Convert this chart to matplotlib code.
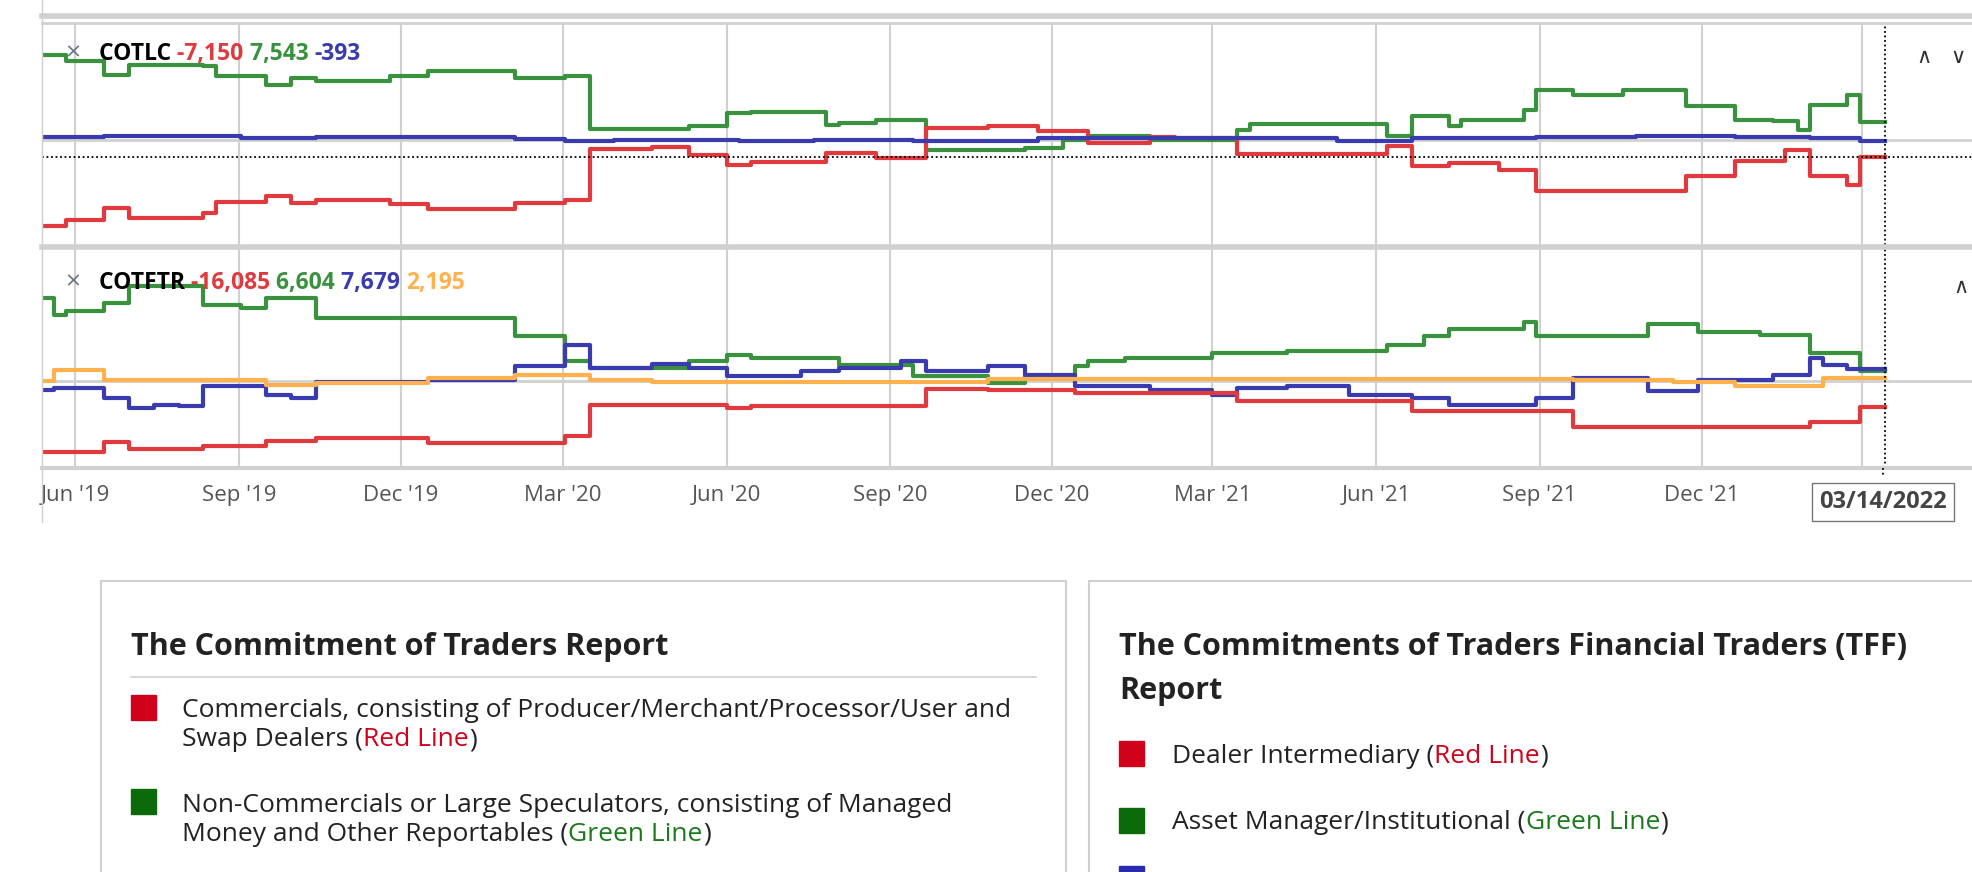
import numpy as np
import pandas as pd
import matplotlib
matplotlib.use("Agg")
import matplotlib.pyplot as plt
from matplotlib.patches import Rectangle

plt.rcParams['font.family'] = ['Open Sans', 'DejaVu Sans']

# ---- data: weekly steps (week index from 2019-05-13, value in thousands) ----
START = pd.Timestamp("2019-05-13")
N_WEEKS = 149

lc_green_w = [0, 2, 5, 7, 13, 14, 18, 20, 22, 28, 31, 38, 42, 44, 52, 55, 57, 63, 64, 67, 71, 79, 82, 84, 89,
              96, 97, 108, 110, 113, 114, 119, 120, 123, 127, 132, 136, 139, 141, 142, 145, 146]
lc_green_v = [35.4, 32.7, 27.1, 31.3, 30.6, 26.4, 22.9, 25.7, 24.3, 26.7, 28.8, 25.6, 26.4, 4.4, 5.8, 11.1, 11.4,
              6.3, 7.0, 8.3, -4.2, -3.5, 0.0, 1.7, 0.0, 4.2, 6.7, 1.7, 9.7, 5.6, 8.3, 12.5, 20.6, 18.8, 20.9,
              13.9, 8.3, 7.6, 4.2, 14.6, 18.8, 7.543]
lc_red_w = [0, 2, 5, 7, 13, 14, 18, 20, 22, 28, 31, 38, 42, 44, 49, 52, 55, 57, 63, 67, 71, 76, 80, 84, 89, 91,
            96, 108, 110, 113, 117, 120, 132, 136, 140, 142, 145, 146]
lc_red_v = [-35.9, -33.4, -28.5, -32.7, -30.6, -26.1, -23.6, -26.4, -25.0, -26.7, -28.9, -26.4, -25.0, -3.9, -3.0,
            -6.5, -10.4, -9.5, -5.6, -7.6, 4.9, 5.8, 3.5, -1.4, 1.1, 0.7, -5.8, -2.8, -11.1, -9.7, -12.5, -21.5,
            -15.3, -9.0, -4.2, -15.3, -18.8, -7.15]
lc_blue_w = [0, 5, 10, 16, 22, 30, 38, 42, 46, 56, 62, 70, 80, 88, 96, 104, 110, 120, 128, 136, 142, 146]
lc_blue_v = [1.0, 1.4, 1.6, 0.6, 0.9, 1.2, 0.4, -0.6, -0.3, -0.4, 0.0, -0.4, 0.8, 0.6, 0.6, -0.6, 0.8, 1.3, 1.6,
             1.0, 0.7, -0.393]

tf_green_w = [0, 1, 2, 5, 7, 13, 16, 18, 22, 38, 42, 44, 52, 55, 57, 64, 70, 76, 79, 83, 84, 87, 94, 100, 108,
              111, 113, 119, 120, 129, 133, 138, 142, 146]
tf_green_v = [53, 42.4, 44.5, 49.8, 60.4, 48.8, 46.6, 53, 40.3, 28.6, 12.7, 8.5, 12.7, 17, 14.8, 10.6, 3.2, -1.1,
              3.2, 9.5, 12.7, 14.8, 18, 19, 23.3, 28.6, 33.3, 37.5, 28.6, 36.7, 31.4, 29.7, 18, 6.604]
tf_blue_w = [0, 1, 5, 7, 9, 11, 13, 18, 20, 22, 31, 38, 42, 44, 49, 52, 55, 61, 64, 69, 71, 76, 79, 83, 89, 94,
             96, 100, 105, 110, 113, 120, 123, 129, 133, 139, 142, 143, 145]
tf_blue_v = [-5.3, -4.2, -10.6, -17, -14.8, -15.8, -3.2, -8.5, -10.6, -0.6, 1.1, 9.5, 23.3, 8.5, 11.2, 8.5, 3.2,
             6.4, 8.5, 12.7, 6.4, 9.5, 4.2, -3.2, -5.3, -8.5, -4.2, -3.2, -8.5, -10.6, -14.8, -10.6, 2.1, -6.4,
             1.1, 4.2, 14.8, 10.6, 7.679]
tf_orange_w = [0, 1, 5, 18, 22, 31, 38, 44, 49, 76, 123, 131, 136, 143]
tf_orange_v = [0, 7.4, 0.6, -2.1, -1.1, 2.1, 4.2, 1.0, -0.6, 1.5, 1.0, -0.6, -2.8, 2.195]
tf_red_w = [0, 5, 7, 13, 18, 22, 31, 42, 44, 55, 57, 71, 76, 83, 96, 110, 123, 142, 146]
tf_red_v = [-45, -38.8, -43, -40.9, -38.2, -36, -39.2, -35, -14.8, -17, -15.5, -4.9, -5.7, -7.4, -12.7, -19,
            -29.3, -26, -16.085]

tick_months = ["2019-06-01", "2019-09-01", "2019-12-01", "2020-03-01", "2020-06-01", "2020-09-01",
               "2020-12-01", "2021-03-01", "2021-06-01", "2021-09-01", "2021-12-01", "2022-03-01"]
tick_labels = ["Jun '19", "Sep '19", "Dec '19", "Mar '20", "Jun '20", "Sep '20",
               "Dec '20", "Mar '21", "Jun '21", "Sep '21", "Dec '21", ""]

RED, GREEN, BLUE, ORANGE = '#e03a3e', '#3a923e', '#3b3bb0', '#ffb14e'
GRID = '#d0d0d0'

weeks = np.arange(N_WEEKS)
dates = START + pd.to_timedelta(weeks * 7, unit='D')


def steps(w, v):
    idx = np.searchsorted(np.array(w), weeks, side='right') - 1
    return np.array(v)[idx]


W, H = 1568.0, 693.0  # layout measured on a scaled copy


def fx(x):
    return x / W


def fy(y):
    return 1 - y / H


fig = plt.figure(figsize=(19.72, 8.72), dpi=100)
ax1 = fig.add_axes([fx(33), fy(195), 1 - fx(33), (195 - 18) / H])
ax2 = fig.add_axes([fx(33), fy(372), 1 - fx(33), (372 - 197) / H])

x_end = START + pd.Timedelta(weeks=155)
for ax in (ax1, ax2):
    ax.set_xlim(START, x_end)
    for s in ax.spines.values():
        s.set_visible(False)
    ax.spines['left'].set_visible(True)
    ax.spines['left'].set_color(GRID)
    ax.set_yticks([])
    ax.set_xticks(pd.to_datetime(tick_months))
    ax.grid(axis='x', color=GRID, lw=1.5)
    ax.tick_params(axis='x', length=0)
    ax.axhline(0, color=GRID, lw=2, zorder=1)
ax1.set_xticklabels([])
ax2.set_xticklabels(tick_labels, fontsize=16, color='#555555')
ax2.tick_params(axis='x', pad=12)

ax1.set_ylim(-44.1, 48.8)
ax2.set_ylim(-55.2, 84.8)

lw = 3.0
ax1.plot(dates, steps(lc_green_w, lc_green_v), drawstyle='steps-post', color=GREEN, lw=lw)
ax1.plot(dates, steps(lc_red_w, lc_red_v), drawstyle='steps-post', color=RED, lw=lw)
ax1.plot(dates, steps(lc_blue_w, lc_blue_v), drawstyle='steps-post', color=BLUE, lw=lw)
ax1.axhline(lc_red_v[-1], color='black', ls=(0, (1, 1.5)), lw=1.3, zorder=5)

ax2.plot(dates, steps(tf_green_w, tf_green_v), drawstyle='steps-post', color=GREEN, lw=lw)
ax2.plot(dates, steps(tf_blue_w, tf_blue_v), drawstyle='steps-post', color=BLUE, lw=lw)
ax2.plot(dates, steps(tf_orange_w, tf_orange_v), drawstyle='steps-post', color=ORANGE, lw=lw)
ax2.plot(dates, steps(tf_red_w, tf_red_v), drawstyle='steps-post', color=RED, lw=lw)

for ax in (ax1, ax2):
    ax.axvline(dates[-1], color='black', ls=(0, (1, 1.5)), lw=1.3, zorder=5, clip_on=False)

# separators
for y, lwid in [(13, 4), (18, 2), (196, 4), (372, 3)]:
    fig.add_artist(plt.Line2D([fx(33), 1], [fy(y), fy(y)], color=GRID, lw=lwid))
fig.add_artist(plt.Line2D([fx(33), fx(33)], [fy(0), fy(415)], color=GRID, lw=1))
fig.add_artist(plt.Line2D([fx(1497), fx(1497)], [fy(372), fy(378)], color='black', ls=':', lw=1.3))

renderer = fig.canvas.get_renderer()


def runs(x, y, parts, size=14):
    for txt, col, wt in parts:
        t = fig.text(x, y, txt, color=col, fontsize=size, fontweight=wt, va='center', ha='left')
        bb = t.get_window_extent(renderer)
        x += bb.width / fig.bbox.width
    return x


fig.text(fx(52), fy(43), '×', color='#6b7785', fontsize=19, va='center')
runs(fx(79), fy(43), [('COTLC ', 'black', 'bold'), ('-7,150 ', RED, 'bold'),
                      ('7,543 ', GREEN, 'bold'), ('-393', BLUE, 'bold')], 16.5)
fig.text(fx(52), fy(225), '×', color='#6b7785', fontsize=19, va='center')
runs(fx(79), fy(225), [('COTFTR ', 'black', 'bold'), ('-16,085 ', RED, 'bold'), ('6,604 ', GREEN, 'bold'),
                       ('7,679 ', BLUE, 'bold'), ('2,195', ORANGE, 'bold')], 16.5)
for xx, ch in [(1530, '∧'), (1557, '∨')]:
    fig.text(fx(xx), fy(45), ch, color='#333333', fontsize=15, ha='center', va='center', family='DejaVu Sans')
fig.text(fx(1559), fy(228), '∧', color='#333333', fontsize=15, ha='center', va='center', family='DejaVu Sans')

fig.text(fx(1497), fy(399), '03/14/2022', fontsize=17, fontweight='bold', color='#444444', ha='center',
         va='center', bbox=dict(boxstyle='square,pad=0.3', fc='white', ec='#777777', lw=1))

# description boxes
fig.add_artist(Rectangle((fx(80), fy(700)), fx(848 - 80), (700 - 462) / H, fill=False, ec=GRID, lw=1.5))
fig.add_artist(Rectangle((fx(866), fy(700)), fx(1600 - 866), (700 - 462) / H, fill=False, ec=GRID, lw=1.5))

TS, BS = 22, 19
fig.text(fx(104), fy(514), 'The Commitment of Traders Report', fontsize=TS, fontweight='bold',
         color='#222222', va='center')
fig.add_artist(plt.Line2D([fx(104), fx(824)], [fy(538), fy(538)], color=GRID, lw=1.2))
fig.add_artist(Rectangle((fx(104), fy(572)), fx(20), 20 / H, color='#d0021b'))
runs(fx(145), fy(565), [('Commercials, consisting of Producer/Merchant/Processor/User and', '#222222', 'normal')], BS)
runs(fx(145), fy(588), [('Swap Dealers (', '#222222', 'normal'), ('Red Line', '#d0021b', 'normal'),
                        (')', '#222222', 'normal')], BS)
fig.add_artist(Rectangle((fx(104), fy(647)), fx(20), 20 / H, color='#0b6b0b'))
runs(fx(145), fy(640), [('Non-Commercials or Large Speculators, consisting of Managed', '#222222', 'normal')], BS)
runs(fx(145), fy(663), [('Money and Other Reportables (', '#222222', 'normal'), ('Green Line', '#1a7a1a', 'normal'),
                        (')', '#222222', 'normal')], BS)

fig.text(fx(890), fy(514), 'The Commitments of Traders Financial Traders (TFF)', fontsize=TS,
         fontweight='bold', color='#222222', va='center')
fig.text(fx(890), fy(549), 'Report', fontsize=TS, fontweight='bold', color='#222222', va='center')
fig.add_artist(Rectangle((fx(890), fy(609)), fx(20), 20 / H, color='#d0021b'))
runs(fx(932), fy(601), [('Dealer Intermediary (', '#222222', 'normal'), ('Red Line', '#d0021b', 'normal'),
                        (')', '#222222', 'normal')], BS)
fig.add_artist(Rectangle((fx(890), fy(662)), fx(20), 20 / H, color='#0b6b0b'))
runs(fx(932), fy(654), [('Asset Manager/Institutional (', '#222222', 'normal'), ('Green Line', '#1a7a1a', 'normal'),
                        (')', '#222222', 'normal')], BS)
fig.add_artist(Rectangle((fx(890), fy(700)), fx(20), 12 / H, color='#2b2bb0'))

fig.savefig('out.png', dpi=100)
